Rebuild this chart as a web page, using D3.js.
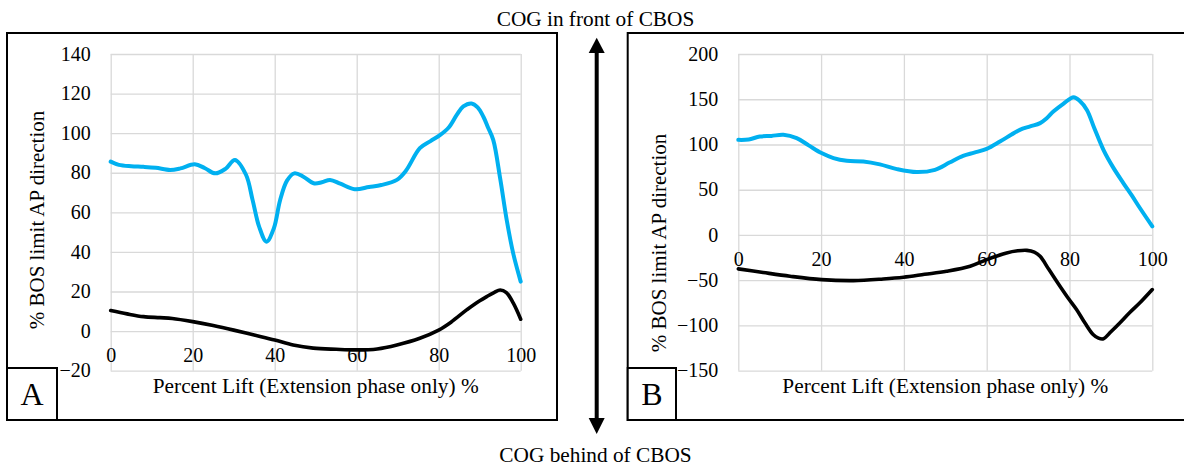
<!DOCTYPE html>
<html>
<head>
<meta charset="utf-8">
<script src="https://cdn.jsdelivr.net/npm/d3@7"></script>
<style>
  html, body { margin: 0; padding: 0; background: #fff; }
  svg { display: block; }
  svg text { font-family: "Liberation Serif", "Times New Roman", serif !important; fill: #000; }
</style>
</head>
<body>
<svg id="chart" width="1184" height="466"></svg>
<script>
// ---- Data -----------------------------------------------------------
const xTicks = [0, 20, 40, 60, 80, 100];
const panelAYTicks = [-20, 0, 20, 40, 60, 80, 100, 120, 140];
const panelBYTicks = [-150, -100, -50, 0, 50, 100, 150, 200];

// Panel A: blue trace
const aBlueX = [0, 2, 5, 8, 11, 14.5, 17, 20.5, 23, 25.5, 28, 30.3, 33, 34.6, 36.2, 38, 39.8, 41.3, 43, 44.8, 47, 49.5, 51.5, 53.5, 56, 59.5, 63, 66, 69.8, 72, 75.4, 78, 80.3, 82.5, 84.4, 86, 88, 89.5, 90.9, 92, 93.3, 95, 96.6, 98.2, 100];
const aBlueY = [85.6, 84, 83.3, 83, 82.5, 81.4, 82.2, 84.3, 82.3, 79.7, 82, 86.5, 79, 66.3, 52.8, 45.2, 52, 66, 76, 79.7, 78, 74.7, 75.2, 76.4, 74.5, 71.7, 72.8, 73.8, 76.4, 81, 92.4, 96, 99, 103, 109.2, 113.5, 115, 113, 108.3, 103, 96.6, 77, 56, 39, 25];
// Panel A: black trace
const aBlackX = [0, 4, 8, 12, 15, 20, 25, 30, 35, 40, 44.5, 49.4, 55, 60, 65, 69.8, 75.4, 80, 83, 86.8, 89, 91.7, 93.5, 95, 96.5, 98.2, 100];
const aBlackY = [10.4, 8.7, 7.3, 6.8, 6.4, 4.8, 2.8, 0.5, -2, -4.5, -7, -8.6, -9.2, -9.5, -9, -7, -3.6, 0.5, 4.5, 10.7, 14, 17.4, 19.5, 20.8, 19.5, 14.1, 6];

// Panel B: blue trace
const bBlueX = [0, 2.5, 5.2, 8, 10.9, 14.1, 17, 20.1, 23, 26.2, 30.2, 34.2, 38.3, 43.1, 47.5, 51, 54.3, 57, 60, 63.2, 66, 68, 70.5, 72.9, 74.5, 76.1, 78.5, 81, 82.5, 84.2, 86, 88.2, 90.5, 93, 95, 97, 100];
const bBlueY = [105.1, 105.5, 108.8, 109.5, 110.7, 107, 99, 90.5, 85, 82, 81.2, 78, 72.8, 69.5, 72, 80, 87.5, 91, 95.2, 103.3, 111, 116.2, 120, 123.6, 129, 136.4, 145, 152.2, 148, 138.2, 118, 94.1, 75, 57.4, 44, 29.8, 9.5];
// Panel B: black trace
const bBlackX = [0, 6, 12.5, 20.1, 27.8, 35, 39.9, 45, 50.3, 56, 60, 64.8, 67.5, 69.7, 71.5, 72.9, 75, 77.7, 79.7, 81.7, 83.7, 85.7, 87, 88.2, 90, 92.2, 94.5, 97, 100];
const bBlackY = [-37.5, -41.5, -45.6, -49.3, -50.4, -48.6, -46.7, -43.5, -40.1, -34.6, -27.2, -19.8, -17.5, -17, -19, -23.6, -38, -56.7, -70, -82.4, -97, -110, -114, -114.7, -107, -97, -86, -75, -60.3];

const xTitle = "Percent Lift (Extension phase only) %";
const yTitle = "% BOS limit AP direction";
const topLabel = "COG in front of CBOS";
const bottomLabel = "COG behind of CBOS";
const panelLetters = ["A", "B"];

// ---- Drawing --------------------------------------------------------
const svg = d3.select("#chart");
const GRID = "#d9d9d9";
const BLUE = "#00b0f0";
const SERIF = '"Liberation Serif", "Times New Roman", serif';

function zip(xs, ys) { return xs.map((x, i) => [x, ys[i]]); }

function drawPanel(cfg) {
  const g = svg.append("g");

  // outer frame
  g.append("rect")
    .attr("x", cfg.frame[0]).attr("y", cfg.frame[1])
    .attr("width", cfg.frame[2] - cfg.frame[0]).attr("height", cfg.frame[3] - cfg.frame[1])
    .attr("fill", "none").attr("stroke", "#000").attr("stroke-width", 2);

  const x = d3.scaleLinear().domain([0, 100]).range([cfg.plot[0], cfg.plot[1]]);
  const y = d3.scaleLinear().domain(cfg.yDomain).range([cfg.plot[3], cfg.plot[2]]);
  const plotW = cfg.plot[1] - cfg.plot[0];
  const plotH = cfg.plot[3] - cfg.plot[2];

  // vertical gridlines
  const xGrid = g.append("g")
    .attr("transform", `translate(0,${cfg.plot[3]})`)
    .call(d3.axisBottom(x).tickValues(xTicks).tickSize(-plotH).tickFormat(""));
  xGrid.select(".domain").remove();
  xGrid.selectAll("line").attr("stroke", GRID).attr("stroke-width", 1.3);

  // horizontal gridlines with value labels
  const yAxis = g.append("g")
    .attr("transform", `translate(${cfg.plot[0]},0)`)
    .call(d3.axisLeft(y).tickValues(cfg.yTicks).tickSize(-plotW).tickPadding(20));
  yAxis.attr("font-family", null).attr("font-size", null);
  yAxis.select(".domain").remove();
  yAxis.selectAll("line").attr("stroke", GRID).attr("stroke-width", 1.3);
  yAxis.selectAll("text")
    .style("font-family", SERIF).style("font-size", "20px")
    .attr("fill", "#000").attr("dy", "0.31em");

  // x labels sit just under the zero line
  const xLab = g.append("g")
    .attr("transform", `translate(0,${y(0)})`)
    .call(d3.axisBottom(x).tickValues(xTicks).tickSize(0));
  xLab.attr("font-family", null).attr("font-size", null);
  xLab.select(".domain").remove();
  xLab.selectAll("text")
    .style("font-family", SERIF).style("font-size", "20px")
    .attr("fill", "#000").attr("y", 31).attr("dy", 0);

  // axis titles
  g.append("text")
    .attr("x", (cfg.plot[0] + cfg.plot[1]) / 2).attr("y", 393)
    .attr("text-anchor", "middle").style("font-size", "21.3px").text(xTitle);
  g.append("text")
    .attr("transform", `translate(${cfg.yTitlePos[0]},${cfg.yTitlePos[1]}) rotate(-90)`)
    .attr("text-anchor", "middle").attr("dy", "0.35em").style("font-size", "21px").text(yTitle);

  // series
  const line = d3.line()
    .x(d => x(d[0])).y(d => y(d[1]))
    .curve(d3.curveCatmullRom.alpha(0.5));
  cfg.series.forEach(s => {
    g.append("path")
      .datum(zip(s.x, s.y))
      .attr("d", line)
      .attr("fill", "none")
      .attr("stroke", s.color)
      .attr("stroke-width", s.width)
      .attr("stroke-linejoin", "round")
      .attr("stroke-linecap", "round");
  });

  // panel letter box
  const lb = cfg.letterBox;
  g.append("rect")
    .attr("x", lb[0]).attr("y", lb[1]).attr("width", lb[2] - lb[0]).attr("height", lb[3] - lb[1])
    .attr("fill", "#fff").attr("stroke", "#000").attr("stroke-width", 2);
  g.append("text")
    .attr("x", (lb[0] + lb[2]) / 2).attr("y", 405)
    .attr("text-anchor", "middle").style("font-size", "32px").text(cfg.letter);
}

drawPanel({
  frame: [7, 33, 557, 420],
  plot: [110.7, 520.7, 54, 370.7],
  yDomain: [-20, 140],
  yTicks: panelAYTicks,
  yTitlePos: [36.5, 220],
  letterBox: [7, 368, 57, 420],
  letter: panelLetters[0],
  series: [
    { x: aBlackX, y: aBlackY, color: "#000", width: 3.6 },
    { x: aBlueX, y: aBlueY, color: BLUE, width: 4 }
  ]
});

drawPanel({
  frame: [627.7, 33, 1190, 420],
  plot: [738.3, 1152.3, 54, 370.7],
  yDomain: [-150, 200],
  yTicks: panelBYTicks,
  yTitlePos: [659, 243],
  letterBox: [627.7, 368, 676, 420],
  letter: panelLetters[1],
  series: [
    { x: bBlackX, y: bBlackY, color: "#000", width: 3.6 },
    { x: bBlueX, y: bBlueY, color: BLUE, width: 4 }
  ]
});

// direction arrow between the panels
const arrowX = 596.7;
const arrow = svg.append("g");
arrow.append("line")
  .attr("x1", arrowX).attr("x2", arrowX).attr("y1", 52).attr("y2", 419)
  .attr("stroke", "#000").attr("stroke-width", 4);
arrow.append("path")
  .attr("d", `M${arrowX},37.7 L${arrowX - 8},53 L${arrowX + 8},53 Z`).attr("fill", "#000");
arrow.append("path")
  .attr("d", `M${arrowX},434 L${arrowX - 8},418 L${arrowX + 8},418 Z`).attr("fill", "#000");

svg.append("text")
  .attr("x", 595.5).attr("y", 26).attr("text-anchor", "middle").style("font-size", "21.3px").text(topLabel);
svg.append("text")
  .attr("x", 595.5).attr("y", 461.5).attr("text-anchor", "middle").style("font-size", "21.3px").text(bottomLabel);
</script>
</body>
</html>
